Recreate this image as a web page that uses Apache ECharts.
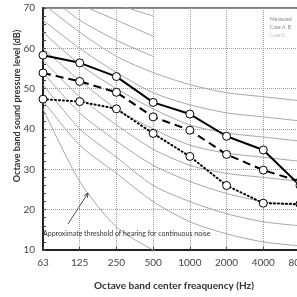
<!DOCTYPE html>
<html><head><meta charset="utf-8">
<script src="https://cdn.jsdelivr.net/npm/echarts@6/dist/echarts.min.js"></script>
<style>html,body{margin:0;padding:0;background:#fff}#c{width:297px;height:297px}</style>
</head><body><div id="c"></div><script>
const categories = ['63','125','250','500','1000','2000','4000','8000'];
const yMin = 10, yMax = 70, yStep = 10;
const solidLevels  = [58.3, 56.4, 53.0, 46.6, 43.7, 38.2, 34.8, 26.0];
const dashedLevels = [53.9, 51.8, 49.1, 43.0, 39.7, 33.7, 29.8, 27.0];
const dottedLevels = [47.4, 46.8, 45.0, 38.9, 33.2, 26.0, 21.6, 21.4];
const nc15 = [47, 36, 29, 22, 17, 14, 12, 11];
const nc20 = [51, 40, 33, 26, 22, 19, 17, 16];
const nc25 = [54, 44, 37, 31, 27, 24, 22, 21];
const nc30 = [57, 48, 41, 35, 31, 29, 28, 27];
const nc35 = [60, 52, 45, 40, 36, 34, 33, 32];
const nc40 = [64, 56, 50, 45, 41, 39, 38, 37];
const nc45 = [67, 60, 54, 49, 46, 44, 43, 42];
const nc50 = [71, 64, 58, 54, 51, 49, 48, 47];
const nc55 = [74, 67, 62, 58, null, null, null, null];
const nc60 = [77, 71, 67, 63, null, null, null, null];
const nc65 = [80, 75, 71, 68, null, null, null, null];
const threshold = [45, 27, 15.7, 10, 6, 3, 1, null];
const annotationText = 'Approximate threshold of hearing for continuous noise';
const xTitle = 'Octave band center freaquency (Hz)';
const yTitle = 'Octave band sound pressure level (dB)';
const legendRows = ['Measured', 'Case A  B', 'Case C'];

const FONT = 'Lato';
const chart = echarts.init(document.getElementById('c'), null, {renderer: 'canvas'});
const grayCurves = [nc15, nc20, nc25, nc30, nc35, nc40, nc45, nc50, nc55, nc60, nc65, threshold];
const series = grayCurves.map(d => ({
  type: 'line', data: d, symbol: 'none', smooth: 0.25, clip: true, silent: true,
  lineStyle: {color: '#a6a6a6', width: 1}, z: 1, connectNulls: false
}));
function main(data, type, dash) {
  return {
    type: 'line', data: data, symbol: 'circle', symbolSize: 8, clip: false, z: 5,
    itemStyle: {color: '#fff', borderColor: '#000', borderWidth: 1},
    lineStyle: {color: '#000', width: 2, type: dash || type, cap: type === 'dotted' ? 'round' : 'butt'}
  };
}
series.push(main(solidLevels, 'solid'));
series.push(main(dashedLevels, 'dashed', [8, 5]));
series.push(main(dottedLevels, 'dotted', [1, 3]));

// arrow geometry
const ax0 = 68, ay0 = 224, ax1 = 88, ay1 = 193;
const L = Math.hypot(ax1 - ax0, ay1 - ay0);
const bx = (ax0 - ax1) / L, by = (ay0 - ay1) / L;
const ang = 25 * Math.PI / 180, hl = 5;
const h1 = [ax1 + hl * (bx * Math.cos(ang) - by * Math.sin(ang)), ay1 + hl * (bx * Math.sin(ang) + by * Math.cos(ang))];
const h2 = [ax1 + hl * (bx * Math.cos(ang) + by * Math.sin(ang)), ay1 + hl * (-bx * Math.sin(ang) + by * Math.cos(ang))];

chart.setOption({
  animation: false,
  backgroundColor: '#fff',
  grid: {left: 43, top: 8, width: 257, height: 242, outerBoundsMode: 'none', containLabel: false,
         show: true, borderColor: '#555', borderWidth: 1.5, backgroundColor: 'transparent'},
  xAxis: {
    type: 'category', data: categories, boundaryGap: false,
    axisLine: {lineStyle: {color: '#222', width: 2}},
    axisTick: {show: true, inside: true, length: 3, lineStyle: {color: '#444'}},
    axisLabel: {color: '#444', fontSize: 10, fontFamily: FONT, margin: 8},
    splitLine: {show: true, lineStyle: {color: '#9a9a9a', type: 'dotted', width: 1}}
  },
  yAxis: {
    type: 'value', min: yMin, max: yMax, interval: yStep,
    axisLine: {show: true, lineStyle: {color: '#222', width: 2}},
    axisTick: {show: true, inside: true, length: 3, lineStyle: {color: '#444'}},
    minorTick: {show: true, splitNumber: 5, length: 3, lineStyle: {color: '#444'}},
    axisLabel: {color: '#444', fontSize: 10, fontFamily: FONT, margin: 8},
    splitLine: {show: true, lineStyle: {color: '#9a9a9a', type: 'dotted', width: 1}}
  },
  series: series,
  graphic: [
    {type: 'text', left: 43, top: 230, z: 10, style: {text: annotationText, font: '7px ' + FONT, fill: '#333'}},
    {type: 'line', z: 10, shape: {x1: ax0, y1: ay0, x2: ax1, y2: ay1}, style: {stroke: '#222', lineWidth: 0.8}},
    {type: 'polyline', z: 10, shape: {points: [h1, [ax1, ay1], h2]}, style: {stroke: '#222', lineWidth: 0.8, fill: null}},
    {type: 'text', x: 174, y: 286, z: 10, style: {text: xTitle, font: 'bold 10px ' + FONT, fill: '#333', align: 'center', verticalAlign: 'middle'}},
    {type: 'text', x: 17, y: 106, rotation: Math.PI / 2, z: 10, style: {text: yTitle, font: 'bold 9px ' + FONT, fill: '#333', align: 'center', verticalAlign: 'middle'}},
    {type: 'text', x: 270, y: 19, z: 10, style: {text: legendRows[0], font: '5px ' + FONT, fill: '#888', verticalAlign: 'middle'}},
    {type: 'text', x: 270, y: 27, z: 10, style: {text: legendRows[1], font: '5px ' + FONT, fill: '#888', verticalAlign: 'middle'}},
    {type: 'text', x: 270, y: 35, z: 10, style: {text: legendRows[2], font: '5px ' + FONT, fill: '#bbb', verticalAlign: 'middle'}}
  ]
});
</script></body></html>
